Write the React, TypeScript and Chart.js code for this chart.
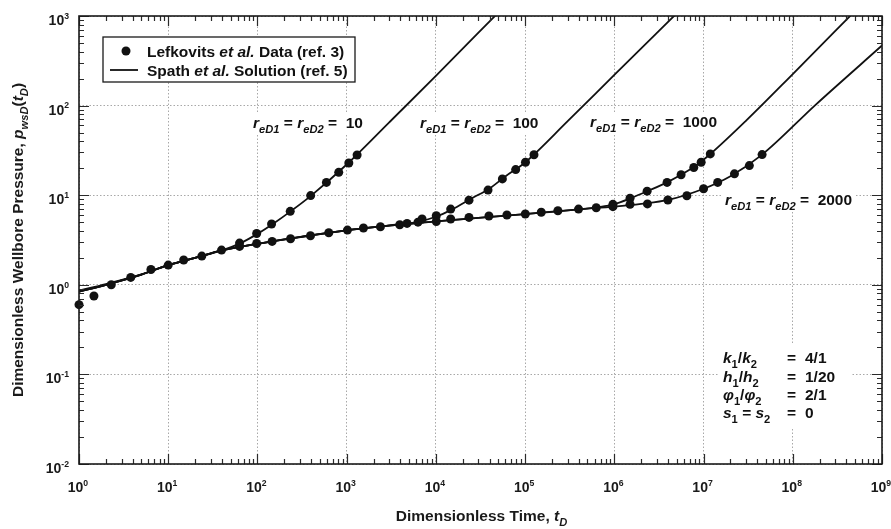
import React, { useEffect, useRef } from 'react';
import { Chart, registerables } from 'chart.js';

Chart.register(...registerables);

// ---------- Measured data (Lefkovits et al.) ----------
const earlyT = [1, 1.47, 2.3, 3.8, 6.4, 10, 14.9, 23.8, 39.6];
const earlyP = [0.6, 0.75, 1.0, 1.21, 1.48, 1.66, 1.89, 2.09, 2.44];

const r10T = [63, 98, 144, 233, 395, 593, 815, 1057, 1309];
const r10P = [2.92, 3.74, 4.77, 6.6, 9.9, 13.9, 18.0, 22.9, 28.1];

const midT = [63, 98, 146, 235, 393, 630, 1020, 1543, 2390, 3935, 4750, 6300];
const midP = [2.68, 2.89, 3.05, 3.27, 3.53, 3.81, 4.08, 4.3, 4.45, 4.68, 4.84, 5.0];

const r100T = [7000, 10100, 14650, 23500, 38400, 55600, 78400, 101000, 125700];
const r100P = [5.42, 5.9, 7.0, 8.8, 11.4, 15.2, 19.3, 23.3, 28.3];

const lateT = [10100, 14650, 23500, 39300, 62500, 100500, 151700, 233000, 397000, 627000];
const lateP = [5.08, 5.42, 5.65, 5.86, 6.01, 6.17, 6.45, 6.71, 7.0, 7.25];

const r1000T = [964000, 1.5e6, 2.33e6, 3.9e6, 5.6e6, 7.77e6, 9.4e6, 1.19e7];
const r1000P = [7.9, 9.25, 11.1, 13.9, 16.9, 20.4, 23.3, 28.9];

const r2000T = [964000, 1.5e6, 2.35e6, 3.98e6, 6.5e6, 1.0e7, 1.44e7, 2.22e7, 3.26e7, 4.53e7];
const r2000P = [7.45, 7.9, 8.0, 8.85, 9.87, 11.8, 13.9, 17.3, 21.4, 28.4];

// ---------- Solution curves (Spath et al.) ----------
const sol10T = [1, 2, 5, 10, 20, 40, 63, 100, 150, 235, 400, 1000, 3000, 10000, 50000];
const sol10P = [0.86, 1.02, 1.31, 1.66, 2.0, 2.42, 2.88, 3.7, 4.8, 6.6, 9.9, 22, 65, 215, 1090];

const sol100T = [1, 2, 5, 10, 20, 40, 100, 400, 1000, 3000, 6300, 10000, 15000, 25000, 40000, 60000, 100000, 300000, 1e6, 5e6];
const sol100P = [0.84, 1.0, 1.3, 1.66, 2.0, 2.42, 2.87, 3.55, 4.05, 4.6, 5.05, 5.75, 6.9, 9.2, 11.9, 16.2, 23.2, 67, 220, 1070];

const sol1000T = [1, 2, 5, 10, 20, 40, 100, 1000, 1e4, 1e5, 4e5, 7e5, 1e6, 1.5e6, 2.3e6, 4e6, 8e6, 1.2e7, 3e7, 1e8, 5e8];
const sol1000P = [0.84, 1.0, 1.3, 1.66, 2.0, 2.42, 2.87, 4.05, 5.1, 6.15, 6.95, 7.4, 7.95, 9.2, 11.0, 14.1, 21, 29, 68, 225, 1140];

const sol2000T = [1, 2, 5, 10, 20, 40, 100, 1000, 1e4, 1e5, 4e5, 1e6, 2e6, 4e6, 1e7, 2e7, 4.5e7, 1.8e8, 1e9];
const sol2000P = [0.84, 1.0, 1.3, 1.66, 2.0, 2.42, 2.87, 4.05, 5.1, 6.15, 6.95, 7.45, 8.0, 8.85, 11.8, 16.3, 28.2, 102, 468];

// ---------- Axes ----------
const xDecades = [0, 1, 2, 3, 4, 5, 6, 7, 8, 9];
const yDecades = [-2, -1, 0, 1, 2, 3];

const FONT = '"Liberation Sans", Arial, Helvetica, sans-serif';
const TXT = 15.5;
const TICK = 14;

type Seg = { t: string; it?: boolean; sub?: boolean; sup?: boolean };

const pts = (ts: number[], ps: number[]) => ts.map((t, i) => ({ x: t, y: ps[i] }));

function isDecade(v: number) {
  if (!(v > 0)) return false;
  const l = Math.log10(v);
  return Math.abs(l - Math.round(l)) < 1e-6;
}

function segFont(s: Seg, size: number) {
  const sz = s.sub ? size * 0.72 : s.sup ? size * 0.62 : size;
  return `${s.it ? 'italic ' : ''}bold ${sz}px ${FONT}`;
}

function richWidth(ctx: CanvasRenderingContext2D, segs: Seg[], size: number) {
  let w = 0;
  for (const s of segs) {
    ctx.font = segFont(s, size);
    w += ctx.measureText(s.t).width;
  }
  return w;
}

function drawRich(
  ctx: CanvasRenderingContext2D,
  segs: Seg[],
  x: number,
  y: number,
  size: number,
  align: 'left' | 'center' | 'right' = 'left'
) {
  const w = richWidth(ctx, segs, size);
  let cx = align === 'left' ? x : align === 'center' ? x - w / 2 : x - w;
  ctx.textBaseline = 'alphabetic';
  ctx.textAlign = 'left';
  for (const s of segs) {
    ctx.font = segFont(s, size);
    const dy = s.sub ? size * 0.3 : s.sup ? -size * 0.45 : 0;
    ctx.fillText(s.t, cx, y + dy);
    cx += ctx.measureText(s.t).width;
  }
  return w;
}

const rLabel = (n: string): Seg[] => [
  { t: 'r', it: true },
  { t: 'eD1', it: true, sub: true },
  { t: ' = ' },
  { t: 'r', it: true },
  { t: 'eD2', it: true, sub: true },
  { t: ' =  ' + n },
];

const decorPlugin = {
  id: 'decor',
  afterDatasetsDraw(chart: any) {
    const { ctx, chartArea: a, scales } = chart;
    const xs = scales.x;
    const ys = scales.y;
    ctx.save();

    // inward tick marks on all four sides
    ctx.strokeStyle = '#2b2b2b';
    ctx.lineWidth = 1.2;
    ctx.beginPath();
    for (const e of xDecades) {
      for (let k = 1; k <= 9; k++) {
        const v = k * Math.pow(10, e);
        if (v > 1e9 + 1) continue;
        const px = Math.round(xs.getPixelForValue(v)) + 0.5;
        const len = k === 1 ? 10 : 5;
        ctx.moveTo(px, a.bottom);
        ctx.lineTo(px, a.bottom - len);
        ctx.moveTo(px, a.top);
        ctx.lineTo(px, a.top + len);
      }
    }
    for (const e of yDecades) {
      for (let k = 1; k <= 9; k++) {
        const v = k * Math.pow(10, e);
        if (v > 1000 + 1e-9) continue;
        const py = Math.round(ys.getPixelForValue(v)) + 0.5;
        const len = k === 1 ? 10 : 5;
        ctx.moveTo(a.left, py);
        ctx.lineTo(a.left + len, py);
        ctx.moveTo(a.right, py);
        ctx.lineTo(a.right - len, py);
      }
    }
    ctx.stroke();

    // frame
    ctx.strokeStyle = '#1a1a1a';
    ctx.lineWidth = 1.6;
    ctx.strokeRect(a.left, a.top, a.right - a.left, a.bottom - a.top);

    ctx.fillStyle = '#1a1a1a';
    // x tick labels
    for (const e of xDecades) {
      const px = xs.getPixelForValue(Math.pow(10, e));
      drawRich(ctx, [{ t: '10' }, { t: String(e), sup: true }], px - 1, a.bottom + 28, TICK, 'center');
    }
    // y tick labels
    for (const e of yDecades) {
      const py = ys.getPixelForValue(Math.pow(10, e));
      const lbl = e < 0 ? '-' + Math.abs(e) : String(e);
      drawRich(ctx, [{ t: '10' }, { t: lbl, sup: true }], a.left - 10, py + 9, TICK, 'right');
    }

    // axis titles
    drawRich(
      ctx,
      [{ t: 'Dimensionless Time, ' }, { t: 't', it: true }, { t: 'D', it: true, sub: true }],
      (a.left + a.right) / 2 + 1,
      chart.height - 8,
      TXT,
      'center'
    );
    ctx.save();
    ctx.translate(23, 240);
    ctx.rotate(-Math.PI / 2);
    drawRich(
      ctx,
      [
        { t: 'Dimensionless Wellbore Pressure, ' },
        { t: 'p', it: true },
        { t: 'wsD', it: true, sub: true },
        { t: '(' },
        { t: 't', it: true },
        { t: 'D', it: true, sub: true },
        { t: ')' },
      ],
      0,
      0,
      TXT,
      'center'
    );
    ctx.restore();

    // legend
    const lx = a.left + 24;
    const ly = a.top + 21;
    ctx.fillStyle = '#ffffff';
    ctx.fillRect(lx, ly, 252, 45);
    ctx.strokeStyle = '#1a1a1a';
    ctx.lineWidth = 1.3;
    ctx.strokeRect(lx, ly, 252, 45);
    ctx.fillStyle = '#111';
    ctx.beginPath();
    ctx.arc(lx + 23, ly + 14, 4.5, 0, Math.PI * 2);
    ctx.fill();
    ctx.strokeStyle = '#111';
    ctx.lineWidth = 1.8;
    ctx.beginPath();
    ctx.moveTo(lx + 7, ly + 33);
    ctx.lineTo(lx + 35, ly + 33);
    ctx.stroke();
    drawRich(ctx, [{ t: 'Lefkovits ' }, { t: 'et al.', it: true }, { t: ' Data (ref. 3)' }], lx + 44, ly + 19.5, TXT);
    drawRich(ctx, [{ t: 'Spath ' }, { t: 'et al.', it: true }, { t: ' Solution (ref. 5)' }], lx + 44, ly + 38.5, TXT);

    // curve labels (white backing hides grid)
    const labels: [string, number, number][] = [
      ['10', 253, 128],
      ['100', 420, 128],
      ['1000', 590, 127],
      ['2000', 725, 205],
    ];
    for (const [n, x, y] of labels) {
      const segs = rLabel(n);
      const w = richWidth(ctx, segs, TXT);
      ctx.fillStyle = '#ffffff';
      ctx.fillRect(x - 2, y - 14, w + 4, 21);
      ctx.fillStyle = '#111';
      drawRich(ctx, segs, x, y, TXT);
    }

    // parameter block
    const rows: [Seg[], string, number][] = [
      [[{ t: 'k', it: true }, { t: '1', sub: true }, { t: '/' }, { t: 'k', it: true }, { t: '2', sub: true }], '4/1', 363],
      [[{ t: 'h', it: true }, { t: '1', sub: true }, { t: '/' }, { t: 'h', it: true }, { t: '2', sub: true }], '1/20', 382],
      [[{ t: 'φ', it: true }, { t: '1', sub: true }, { t: '/' }, { t: 'φ', it: true }, { t: '2', sub: true }], '2/1', 400],
      [[{ t: 's', it: true }, { t: '1', sub: true }, { t: ' = ' }, { t: 's', it: true }, { t: '2', sub: true }], '0', 418],
    ];
    ctx.fillStyle = '#ffffff';
    ctx.fillRect(718, 345, 134, 82);
    ctx.fillStyle = '#111';
    for (const [segs, val, y] of rows) {
      drawRich(ctx, segs, 723, y, TXT);
      drawRich(ctx, [{ t: '=' }], 787, y, TXT);
      drawRich(ctx, [{ t: val }], 805, y, TXT);
    }

    ctx.restore();
  },
};

export default function App() {
  const ref = useRef<HTMLCanvasElement | null>(null);

  useEffect(() => {
    const canvas = ref.current;
    if (!canvas) return;

    const dataPts = [
      ...pts(earlyT, earlyP),
      ...pts(r10T, r10P),
      ...pts(midT, midP),
      ...pts(r100T, r100P),
      ...pts(lateT, lateP),
      ...pts(r1000T, r1000P),
      ...pts(r2000T, r2000P),
    ];

    const solStyle = {
      showLine: true,
      borderColor: '#111111',
      backgroundColor: '#111111',
      borderWidth: 1.8,
      pointRadius: 0,
      cubicInterpolationMode: 'monotone' as const,
    };

    const gridColor = (c: any) => (c.tick && isDecade(c.tick.value) ? '#a8a8a8' : 'rgba(0,0,0,0)');

    const chart = new Chart(canvas, {
      type: 'scatter',
      data: {
        datasets: [
          {
            label: 'Lefkovits et al. Data (ref. 3)',
            data: dataPts,
            pointRadius: 4.5,
            pointBackgroundColor: '#111111',
            pointBorderWidth: 0,
            showLine: false,
            clip: 6,
          },
          { label: 'Spath et al. Solution (ref. 5) rD=10', data: pts(sol10T, sol10P), ...solStyle },
          { label: 'Spath et al. Solution (ref. 5) rD=100', data: pts(sol100T, sol100P), ...solStyle },
          { label: 'Spath et al. Solution (ref. 5) rD=1000', data: pts(sol1000T, sol1000P), ...solStyle },
          { label: 'Spath et al. Solution (ref. 5) rD=2000', data: pts(sol2000T, sol2000P), ...solStyle },
        ],
      },
      options: {
        animation: false,
        responsive: false,
        devicePixelRatio: 1,
        layout: { padding: { top: 16, right: 9, left: 0, bottom: 0 } },
        plugins: {
          legend: { display: false },
          tooltip: { enabled: false },
        },
        scales: {
          x: {
            type: 'logarithmic',
            min: 1,
            max: 1e9,
            ticks: { display: false },
            grid: { color: gridColor, lineWidth: 1, drawTicks: false },
            border: { display: false, dash: [1.5, 2] },
            afterFit: (s: any) => {
              s.height = 65;
            },
          },
          y: {
            type: 'logarithmic',
            min: 0.01,
            max: 1000,
            ticks: { display: false },
            grid: { color: gridColor, lineWidth: 1, drawTicks: false },
            border: { display: false, dash: [1.5, 2] },
            afterFit: (s: any) => {
              s.width = 79;
            },
          },
        },
      },
      plugins: [decorPlugin],
    } as any);

    return () => chart.destroy();
  }, []);

  return (
    <div style={{ position: 'fixed', left: 0, top: 0, width: 891, height: 529, background: '#fff' }}>
      <canvas ref={ref} width={891} height={529} style={{ display: 'block' }} />
    </div>
  );
}
